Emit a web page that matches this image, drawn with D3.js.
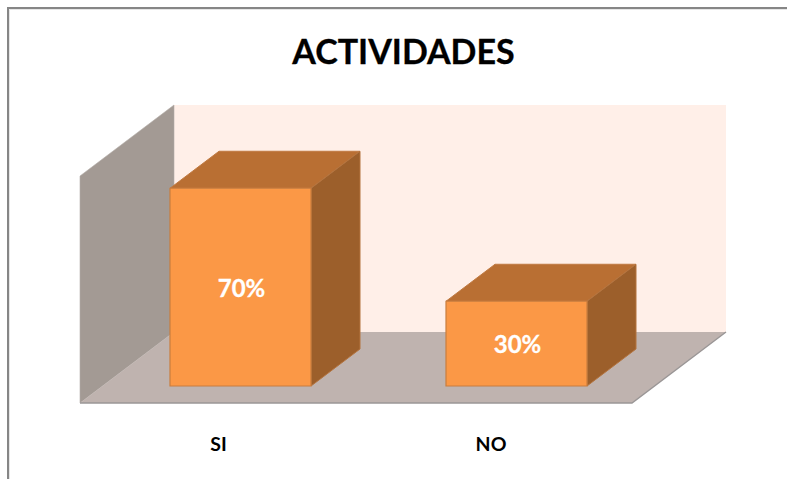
<!DOCTYPE html>
<html>
<head>
<meta charset="utf-8">
<script src="https://cdn.jsdelivr.net/npm/d3@7"></script>
<style>
html,body{margin:0;padding:0;background:#fff;overflow:hidden}
svg{display:block}
text{font-family:Lato,"Open Sans",sans-serif;font-weight:700}
</style>
</head>
<body>
<svg id="chart" width="787" height="479"></svg>
<script>
const titleText = "ACTIVIDADES";
const categories = ["SI", "NO"];
const values = [0.7, 0.3];
const valueLabels = ["70%", "30%"];
const axisMax = 0.8;

const svg = d3.select("#chart");
const W = 787, H = 479;

// outer frame
svg.append("path").attr("d", `M8,${H}V8H${W}`).attr("fill", "none")
  .attr("stroke", "#868686").attr("stroke-width", 2);
svg.append("path").attr("d", `M9.5,${H}V9.5H${W}`).attr("fill", "none")
  .attr("stroke", "#e6e6e6").attr("stroke-width", 1);

// plot box in the front plane
const left = 80, right = 632, base = 403;
const wallDx = 94, wallDy = -71;
const x = d3.scaleBand().domain(categories).range([left, right]);
const xLabel = d3.scalePoint().domain(categories).range([218.5, 491]);
const yHeight = d3.scaleLinear().domain([0, axisMax]).range([0, 227]);
const wallTop = base - yHeight(axisMax);
const poly = pts => d3.line()(pts) + "Z";

// back wall
svg.append("path")
  .attr("d", poly([[left + wallDx, wallTop + wallDy], [right + wallDx, wallTop + wallDy],
                   [right + wallDx, base + wallDy], [left + wallDx, base + wallDy]]))
  .attr("fill", "#ffefe8");
// side wall
svg.append("path")
  .attr("d", poly([[left, wallTop], [left + wallDx, wallTop + wallDy],
                   [left + wallDx, base + wallDy], [left, base]]))
  .attr("fill", "#a39a94").attr("stroke", "#b4aca7").attr("stroke-width", 0.6);
// floor
svg.append("path")
  .attr("d", poly([[left, base], [right, base], [right + wallDx, base + wallDy], [left + wallDx, base + wallDy]]))
  .attr("fill", "#bfb3af");
svg.append("path")
  .attr("d", d3.line()([[left, base], [right, base], [right + wallDx, base + wallDy]]))
  .attr("fill", "none").attr("stroke", "#9a9696").attr("stroke-width", 1.4);

// bars
const barW = 141, dOff = [22.5, -17], dBar = [49, -37];
const barScale = d3.scaleLinear().domain([0, axisMax]).range([0, 226]);
const data = categories.map((c, i) => ({ c, v: values[i], label: valueLabels[i] }));
const g = svg.append("g").selectAll("g").data(data).join("g");
const geom = d => {
  const cx = x(d.c) + x.bandwidth() / 2 + dOff[0];
  const x0 = cx - barW / 2, x1 = cx + barW / 2;
  const y1 = base + dOff[1], y0 = y1 - barScale(d.v);
  return { cx, x0, x1, y0, y1 };
};
g.append("path").attr("d", d => { const b = geom(d);
    return poly([[b.x0, b.y0], [b.x1, b.y0], [b.x1 + dBar[0], b.y0 + dBar[1]], [b.x0 + dBar[0], b.y0 + dBar[1]]]); })
  .attr("fill", "#b96f33").attr("stroke", "#c07a42").attr("stroke-width", 1);
g.append("path").attr("d", d => { const b = geom(d);
    return poly([[b.x1, b.y0], [b.x1 + dBar[0], b.y0 + dBar[1]], [b.x1 + dBar[0], b.y1 + dBar[1]], [b.x1, b.y1]]); })
  .attr("fill", "#9c5f2b").attr("stroke", "#b4743f").attr("stroke-width", 1);
g.append("path").attr("d", d => { const b = geom(d);
    return poly([[b.x0, b.y0], [b.x1, b.y0], [b.x1, b.y1], [b.x0, b.y1]]); })
  .attr("fill", "#fb9846").attr("stroke", "#c97d3e").attr("stroke-width", 1.2);
g.append("text").text(d => d.label)
  .attr("x", d => geom(d).cx + 1)
  .attr("y", d => (geom(d).y0 + geom(d).y1) / 2 + 9.5)
  .attr("text-anchor", "middle").attr("font-size", 24).attr("fill", "#fff")
  .attr("stroke", "#fff").attr("stroke-width", 0.3);

// category labels
svg.append("g").selectAll("text").data(categories).join("text")
  .text(d => d)
  .attr("x", d => xLabel(d))
  .attr("y", 451)
  .attr("text-anchor", "middle").attr("font-size", 19.5).attr("fill", "#000");

// title
svg.append("text").text(titleText)
  .attr("x", 403.5).attr("y", 64)
  .attr("text-anchor", "middle").attr("font-size", 34).attr("fill", "#000")
  .attr("stroke", "#000").attr("stroke-width", 0.3);
</script>
</body>
</html>
